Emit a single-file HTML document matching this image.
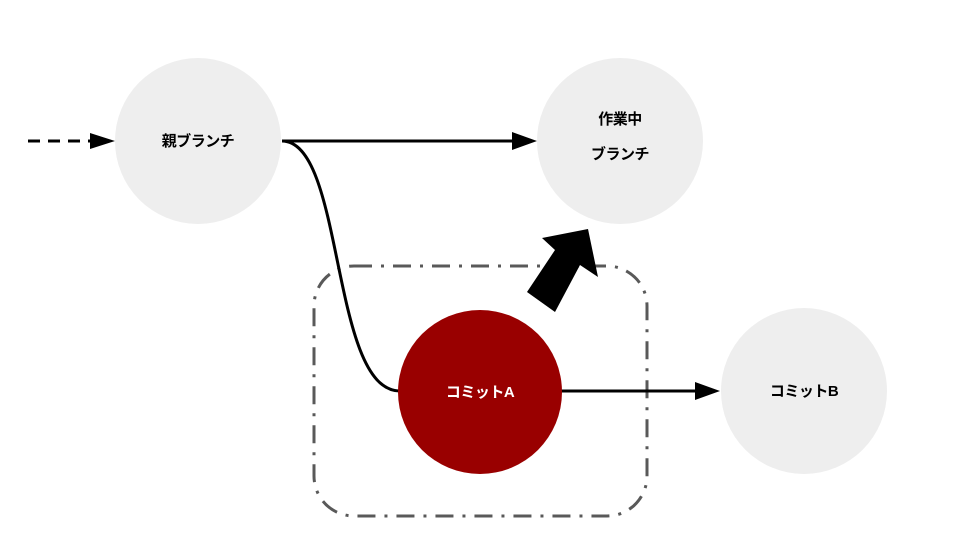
<!DOCTYPE html>
<html><head><meta charset="utf-8"><style>
html,body{margin:0;padding:0;background:#fff;width:960px;height:540px;overflow:hidden}
text{font-family:"Liberation Sans","Noto Sans CJK JP",sans-serif;font-weight:bold;font-size:15px;letter-spacing:-0.5px}
</style></head><body>
<svg width="960" height="540" viewBox="0 0 960 540" xmlns="http://www.w3.org/2000/svg">
<circle cx="198" cy="141" r="83" fill="#eeeeee"/>
<circle cx="620" cy="141" r="83" fill="#eeeeee"/>
<circle cx="804" cy="391" r="83" fill="#eeeeee"/>
<rect x="314" y="266" width="333" height="250" rx="40" fill="none" stroke="#595959" stroke-width="3" stroke-dasharray="18,9,3,9"/>
<line x1="28" y1="141" x2="92" y2="141" stroke="#000" stroke-width="3" stroke-dasharray="12,8"/>
<polygon points="90,133 115,141 90,149" fill="#000"/>
<line x1="282" y1="141" x2="515" y2="141" stroke="#000" stroke-width="3"/>
<polygon points="512,132 537,141 512,150" fill="#000"/>
<path d="M282 141 C 345 141, 330 391, 400 391" fill="none" stroke="#000" stroke-width="3"/>
<line x1="560" y1="391" x2="698" y2="391" stroke="#000" stroke-width="3"/>
<polygon points="695,382 720,391 695,400" fill="#000"/>
<circle cx="480" cy="392" r="82" fill="#990000"/>
<polygon points="527,292 555,312 580,265 598,277 588,229 542,238 555,250" fill="#000"/>
<text x="198" y="146" text-anchor="middle" fill="#000">親ブランチ</text>
<text x="620" y="124" text-anchor="middle" fill="#000">作業中</text>
<text x="620" y="159" text-anchor="middle" fill="#000">ブランチ</text>
<text x="480" y="397" text-anchor="middle" fill="#fff">コミットA</text>
<text x="804" y="396" text-anchor="middle" fill="#000">コミットB</text>
</svg>
</body></html>
